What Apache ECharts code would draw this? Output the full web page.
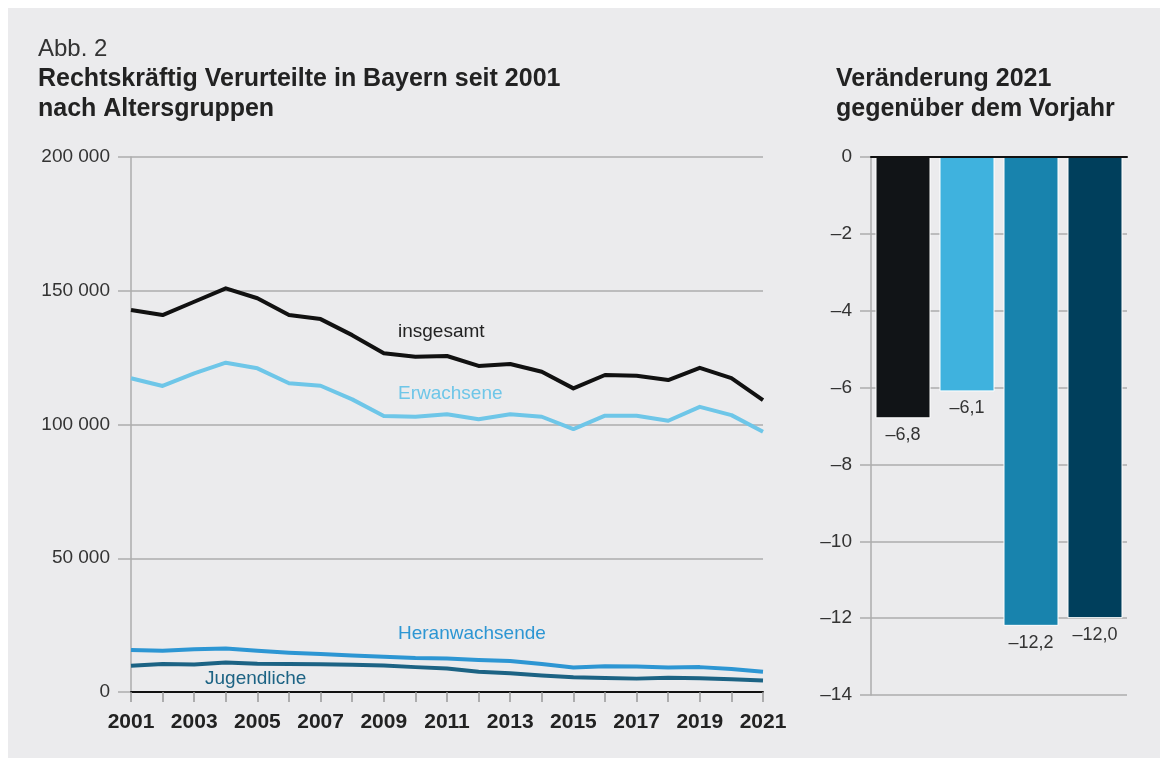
<!DOCTYPE html>
<html>
<head>
<meta charset="utf-8">
<script src="https://cdn.jsdelivr.net/npm/echarts@6/dist/echarts.min.js"></script>
<style>
html, body { margin: 0; padding: 0; background: #fff; }
#box { position: absolute; left: 8px; top: 8px; width: 1152px; height: 750px; background: #ebebed; }
#main { position: absolute; left: 0; top: 0; width: 1160px; height: 758px; }
</style>
</head>
<body>
<div id="box"></div>
<div id="main"></div>
<script>
// Jahre 2001-2021
const years = ['2001', '2002', '2003', '2004', '2005', '2006', '2007', '2008', '2009', '2010',
  '2011', '2012', '2013', '2014', '2015', '2016', '2017', '2018', '2019', '2020', '2021']
const insgesamt = [142800, 140900, 145900, 150900, 147200, 140900, 139400, 133400, 126600, 125300,
  125600, 121900, 122600, 119700, 113500, 118500, 118200, 116600, 121200, 117300, 109100]
const erwachsene = [117300, 114400, 119100, 123100, 121000, 115400, 114500, 109400, 103200, 102900,
  103800, 102000, 103800, 102900, 98300, 103300, 103300, 101400, 106600, 103500, 97300]
const heranwachsende = [15700, 15400, 16000, 16300, 15400, 14700, 14200, 13600, 13200, 12700,
  12500, 12000, 11600, 10500, 9200, 9600, 9500, 9200, 9300, 8600, 7600]
const jugendliche = [9800, 10500, 10300, 11000, 10600, 10500, 10400, 10200, 9900, 9300,
  8800, 7600, 7000, 6200, 5500, 5200, 5000, 5300, 5100, 4800, 4300]

// Veraenderung 2021 gegenueber Vorjahr (%)
const groups = ['insgesamt', 'Erwachsene', 'Heranwachsende', 'Jugendliche']
const change = [-6.8, -6.1, -12.2, -12.0]
const barColors = ['#111417', '#3fb2de', '#1883ad', '#003f5c']

const font = '"Liberation Sans", Arial, sans-serif'
const grey = '#adadad'

const lineSeries = (name, data, color) => ({
  name: name,
  type: 'line',
  xAxisIndex: 0,
  yAxisIndex: 0,
  data: data,
  symbol: 'none',
  lineStyle: { width: 4, color: color, join: 'round' },
  z: 3,
})

const option = {
  animation: false,
  textStyle: { fontFamily: font },
  title: [
    { text: 'Abb. 2', left: 38, top: 37, padding: 0, textStyle: { fontSize: 24, fontWeight: 'normal', color: '#333', fontFamily: font } },
    {
      text: 'Rechtskräftig Verurteilte in Bayern seit 2001\nnach Altersgruppen',
      left: 38, top: 64, padding: 0,
      textStyle: { fontSize: 25, fontWeight: 'bold', color: '#222', lineHeight: 30, fontFamily: font },
    },
    {
      text: 'Veränderung 2021\ngegenüber dem Vorjahr',
      left: 836, top: 64, padding: 0,
      textStyle: { fontSize: 25, fontWeight: 'bold', color: '#222', lineHeight: 30, fontFamily: font },
    },
  ],
  grid: [
    { left: 131, right: 397, top: 157, bottom: 66 },
    { left: 871, right: 33, top: 157, bottom: 63 },
  ],
  xAxis: [
    {
      gridIndex: 0,
      type: 'category',
      boundaryGap: false,
      data: years,
      axisLine: { show: true, lineStyle: { color: '#111', width: 2 } },
      axisTick: { show: true, interval: 0, length: 10, lineStyle: { color: '#999', width: 1.5 } },
      axisLabel: { interval: 1, margin: 20, fontSize: 21, fontWeight: 'bold', color: '#222', fontFamily: font },
      splitLine: { show: false },
      z: 5,
    },
    {
      gridIndex: 1,
      type: 'category',
      data: groups,
      axisLine: { show: true, onZero: true, lineStyle: { color: '#111', width: 2 } },
      axisTick: { show: false },
      axisLabel: { show: false },
      z: 5,
    },
  ],
  yAxis: [
    {
      gridIndex: 0,
      type: 'value',
      min: 0,
      max: 200000,
      interval: 50000,
      axisLine: { show: true, lineStyle: { color: grey, width: 1.5 } },
      axisTick: { show: true, length: 13, lineStyle: { color: grey, width: 1.5 } },
      axisLabel: {
        margin: 21,
        fontSize: 19,
        color: '#333',
        fontFamily: font,
        formatter: (v) => String(v).replace(/\B(?=(\d{3})+(?!\d))/g, ' '),
      },
      splitLine: { show: true, lineStyle: { color: grey, width: 1.5 } },
    },
    {
      gridIndex: 1,
      type: 'value',
      min: -14,
      max: 0,
      interval: 2,
      axisLine: { show: true, lineStyle: { color: grey, width: 1.5 } },
      axisTick: { show: true, length: 11, lineStyle: { color: grey, width: 1.5 } },
      axisLabel: {
        margin: 19,
        fontSize: 19,
        color: '#333',
        fontFamily: font,
        formatter: (v) => (v < 0 ? '\u2013' + Math.abs(v) : String(v)),
      },
      splitLine: { show: true, lineStyle: { color: grey, width: 1.5 } },
    },
  ],
  series: [
    lineSeries('insgesamt', insgesamt, '#111111'),
    lineSeries('Erwachsene', erwachsene, '#6ec6e8'),
    lineSeries('Heranwachsende', heranwachsende, '#2d96d3'),
    lineSeries('Jugendliche', jugendliche, '#1c6384'),
    {
      name: 'Veränderung',
      type: 'bar',
      xAxisIndex: 1,
      yAxisIndex: 1,
      barWidth: 55,
      data: change.map((v, i) => ({
        value: v,
        itemStyle: { color: barColors[i], borderColor: '#fff', borderWidth: 1 },
      })),
      label: {
        show: true,
        position: 'bottom',
        distance: 8,
        fontSize: 18,
        color: '#333',
        fontFamily: font,
        formatter: (p) => '\u2013' + Math.abs(p.value).toFixed(1).replace('.', ','),
      },
    },
  ],
  graphic: [
    { type: 'text', left: 398, top: 322, style: { text: 'insgesamt', fill: '#222', font: '19px ' + font } },
    { type: 'text', left: 398, top: 384, style: { text: 'Erwachsene', fill: '#6ec6e8', font: '19px ' + font } },
    { type: 'text', left: 398, top: 624, style: { text: 'Heranwachsende', fill: '#2d96d3', font: '19px ' + font } },
    { type: 'text', left: 205, top: 669, style: { text: 'Jugendliche', fill: '#1c6384', font: '19px ' + font } },
  ],
}

const chartDom = echarts.init(document.getElementById('main'))
chartDom.setOption(option)
</script>
</body>
</html>
